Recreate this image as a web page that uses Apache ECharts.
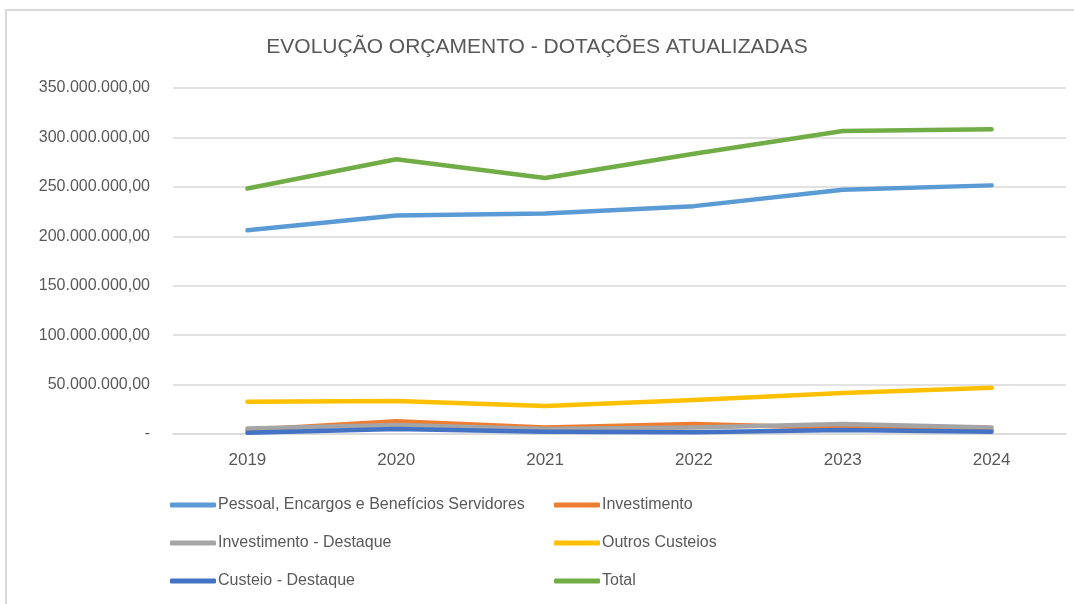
<!DOCTYPE html>
<html>
<head>
<meta charset="utf-8">
<script src="https://cdn.jsdelivr.net/npm/echarts@6/dist/echarts.min.js"></script>
<style>
  html, body { margin: 0; padding: 0; background: #fff; }
  #chart { width: 1074px; height: 604px; }
</style>
</head>
<body>
<div id="chart"></div>
<script>
const years = ['2019', '2020', '2021', '2022', '2023', '2024'];

// valores em milhões de reais
const pessoal = [206, 221, 223, 230.5, 247, 251.5];
const investimento = [4, 13, 6.5, 10, 6, 4];
const investDestaque = [5.5, 9, 5, 6.5, 10, 6.5];
const outrosCusteios = [32.7, 33.5, 28.3, 34.5, 41.5, 46.7];
const custeioDestaque = [1.3, 5, 2.3, 1.7, 4, 2.3];
const total = [248.3, 278, 259, 283.5, 306.5, 308.3];

const yTicks = [0, 50, 100, 150, 200, 250, 300, 350];

const toReais = (list) => list.map((v) => v * 1000000);

const fmt = (value) => {
  if (value === 0) {
    return '-';
  }
  const s = String(Math.round(value));
  return s.replace(/\B(?=(\d{3})+(?!\d))/g, '.') + ',00';
};

const seriesDefs = [
  { name: 'Pessoal, Encargos e Benefícios Servidores', data: pessoal, color: '#5B9BD5' },
  { name: 'Investimento', data: investimento, color: '#ED7D31' },
  { name: 'Investimento - Destaque', data: investDestaque, color: '#A5A5A5' },
  { name: 'Outros Custeios', data: outrosCusteios, color: '#FFC000' },
  { name: 'Custeio - Destaque', data: custeioDestaque, color: '#4472C4' },
  { name: 'Total', data: total, color: '#70AD47' },
];

const font = '"Liberation Sans", Arial, sans-serif';
const grey = '#595959';

const legendBase = {
  orient: 'vertical',
  top: 490,
  itemWidth: 46,
  itemHeight: 5,
  itemGap: 18,
  icon: 'roundRect',
  textStyle: { fontFamily: font, fontSize: 16, color: grey, lineHeight: 20, padding: [0, 0, 0, -3] },
};

const myChart = echarts.init(document.getElementById('chart'));

const option = {
  animation: false,
  backgroundColor: '#fff',
  title: {
    text: 'EVOLUÇÃO ORÇAMENTO - DOTAÇÕES ATUALIZADAS',
    left: 'center',
    top: 32,
    textStyle: { fontFamily: font, fontSize: 21, fontWeight: 'normal', color: grey },
  },
  graphic: [
    {
      type: 'rect',
      shape: { x: 6, y: 10, width: 1200, height: 700 },
      style: { fill: 'none', stroke: '#d9d9d9', lineWidth: 2 },
      silent: true,
    },
  ],
  legend: [
    Object.assign({}, legendBase, {
      left: 165,
      data: [seriesDefs[0].name, seriesDefs[2].name, seriesDefs[4].name],
    }),
    Object.assign({}, legendBase, {
      left: 549,
      data: [seriesDefs[1].name, seriesDefs[3].name, seriesDefs[5].name],
    }),
  ],
  grid: { left: 173, right: 8, top: 88, bottom: 170 },
  xAxis: {
    type: 'category',
    data: years,
    boundaryGap: true,
    axisLine: { lineStyle: { color: '#d9d9d9', width: 1.5 } },
    axisTick: { show: false },
    axisLabel: { fontFamily: font, fontSize: 17, color: grey, margin: 18 },
  },
  yAxis: {
    type: 'value',
    min: yTicks[0] * 1000000,
    max: yTicks[yTicks.length - 1] * 1000000,
    interval: 50000000,
    axisLine: { show: false },
    axisTick: { show: false },
    splitLine: { lineStyle: { color: '#d9d9d9', width: 1.5 } },
    axisLabel: { fontFamily: font, fontSize: 16, color: grey, margin: 23, formatter: fmt },
  },
  series: seriesDefs.map((s) => ({
    name: s.name,
    type: 'line',
    data: toReais(s.data),
    color: s.color,
    showSymbol: false,
    symbol: 'none',
    lineStyle: { width: 4.5, color: s.color, cap: 'round', join: 'round' },
  })),
};
myChart.setOption(option);
</script>
</body>
</html>
